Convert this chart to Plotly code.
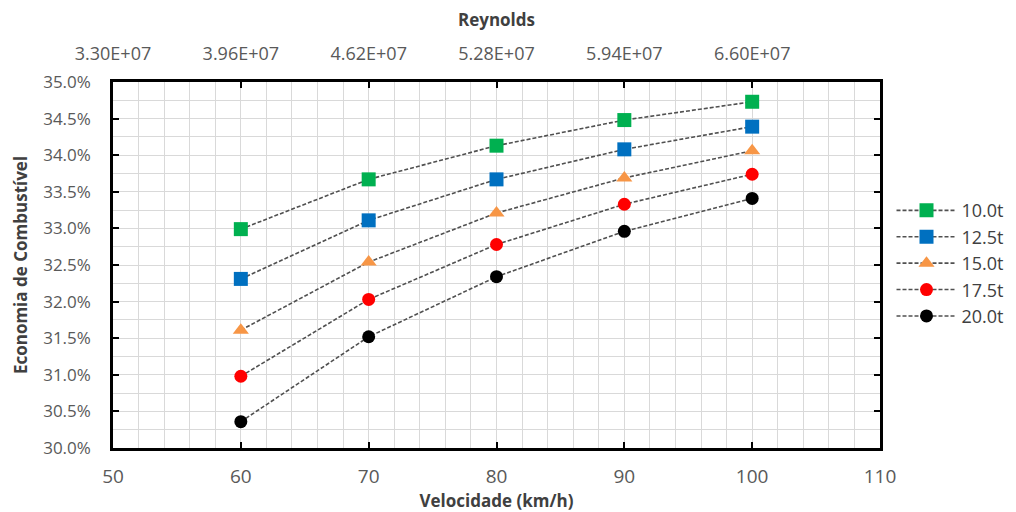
import plotly.graph_objects as go

velocidade = [60, 70, 80, 90, 100]
series_names = ["10.0t", "12.5t", "15.0t", "17.5t", "20.0t"]
eco_10 = [0.3299, 0.3367, 0.3413, 0.3448, 0.3473]
eco_125 = [0.3231, 0.3311, 0.3367, 0.3408, 0.3439]
eco_15 = [0.3161, 0.3254, 0.3321, 0.3369, 0.3406]
eco_175 = [0.3098, 0.3203, 0.3278, 0.3333, 0.3374]
eco_20 = [0.3036, 0.3152, 0.3234, 0.3296, 0.3341]
reynolds_ticks = [3.30e7, 3.96e7, 4.62e7, 5.28e7, 5.94e7, 6.60e7]
reynolds_labels = ["3.30E+07", "3.96E+07", "4.62E+07", "5.28E+07", "5.94E+07", "6.60E+07"]

colors = ["#00B050", "#0070C0", "#F79646", "#FF0000", "#000000"]
symbols = ["square", "square", "triangle-up", "circle", "circle"]
sizes = [14, 14, 14, 13, 13]
all_series = [eco_10, eco_125, eco_15, eco_175, eco_20]

FONT = "'Open Sans', Lato, sans-serif"
TICKCOL = "#595959"
TITLECOL = "#404040"
GRID = "#D9D9D9"

fig = go.Figure()
for name, ys, c, s, sz in zip(series_names, all_series, colors, symbols, sizes):
    fig.add_trace(go.Scatter(
        x=velocidade, y=ys, name=name, mode="lines+markers",
        line=dict(color="#505050", width=1.6, dash="4px,2px"),
        marker=dict(color=c, symbol=s, size=sz, line=dict(width=0)),
    ))

# invisible trace to activate Reynolds axis
fig.add_trace(go.Scatter(x=reynolds_ticks, y=[None] * len(reynolds_ticks), xaxis="x2",
                         showlegend=False, hoverinfo="skip", mode="markers"))

fig.update_layout(
    width=1008, height=504,
    margin=dict(l=105, r=136, t=74, b=64, autoexpand=False),
    paper_bgcolor="white", plot_bgcolor="white",
    font=dict(family=FONT, size=16, color=TICKCOL),
    xaxis=dict(
        range=[50, 110], dtick=10, tick0=50, automargin=False,
        showgrid=True, gridcolor=GRID, gridwidth=1,
        minor=dict(dtick=2, showgrid=True, gridcolor=GRID, gridwidth=1, ticks=""),
        showline=True, linecolor="black", linewidth=2.5, mirror="ticks",
        ticks="inside", ticklen=6, tickwidth=2, tickcolor="black",
        ticklabelstandoff=9,
        tickfont=dict(family=FONT, size=19, color=TICKCOL),
        title=dict(text="<b>Velocidade (km/h)</b>", font=dict(family=FONT, size=17, color=TITLECOL), standoff=4),
        zeroline=False,
    ),
    xaxis2=dict(
        overlaying="x", side="top", range=[3.30e7, 7.26e7], automargin=False,
        tickvals=reynolds_ticks, ticktext=reynolds_labels,
        showgrid=False, showline=False, ticks="",
        ticklabelstandoff=17,
        tickfont=dict(family=FONT, size=18, color=TICKCOL),
        title=dict(text="<b>Reynolds</b>", font=dict(family=FONT, size=17, color=TITLECOL), standoff=10),
        zeroline=False,
    ),
    yaxis=dict(
        range=[0.30, 0.35], dtick=0.005, tick0=0.30, tickformat=".1%", automargin=False,
        showgrid=True, gridcolor=GRID, gridwidth=1,
        minor=dict(dtick=0.0025, showgrid=True, gridcolor=GRID, gridwidth=1, ticks=""),
        showline=True, linecolor="black", linewidth=2.5, mirror="ticks",
        ticks="inside", ticklen=6, tickwidth=2, tickcolor="black",
        ticklabelstandoff=16,
        tickfont=dict(family=FONT, size=17, color=TICKCOL),
        title=dict(text="<b>Economia de Combustível</b>", font=dict(family=FONT, size=17, color=TITLECOL), standoff=12),
        zeroline=False,
    ),
    legend=dict(
        x=1.015, xanchor="left", y=0.505, yanchor="middle",
        font=dict(family=FONT, size=18, color=TITLECOL),
        itemwidth=60, tracegroupgap=0, bgcolor="rgba(0,0,0,0)",
    ),
    showlegend=True,
)

fig.write_html("out.html")
